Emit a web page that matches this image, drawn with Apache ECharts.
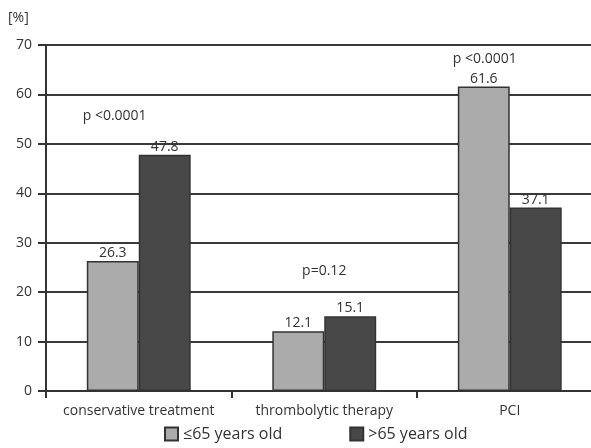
<!DOCTYPE html>
<html>
<head>
<meta charset="utf-8">
<script src="https://cdn.jsdelivr.net/npm/echarts@6/dist/echarts.min.js"></script>
<style>
  html, body { margin: 0; padding: 0; background: #fff; }
  #chart { width: 591px; height: 448px; }
</style>
</head>
<body>
<div id="chart"></div>
<script>
// Treatment categories and shares per age group (%)
const categories = ['conservative treatment', 'thrombolytic therapy', 'PCI'];
const youngerLabel = '≤65 years old';
const olderLabel = '>65 years old';
const youngerValues = [26.3, 12.1, 61.6];
const olderValues = [47.8, 15.1, 37.1];
// p-values for each comparison, with the value height they sit at
const pValues = ['p <0.0001', 'p=0.12', 'p <0.0001'];
const pLevels = [55.6, 24.2, 67.2];
const yTicks = [0, 10, 20, 30, 40, 50, 60, 70];

const font = '"Open Sans", "Noto Sans", sans-serif';
const textColor = '#333';

const chart = echarts.init(document.getElementById('chart'), null, { renderer: 'canvas' });

const labelStyle = {
  show: true,
  position: 'top',
  distance: 1,
  color: textColor,
  fontFamily: font,
  fontSize: 14
};

chart.setOption({
  animation: false,
  backgroundColor: '#fff',
  grid: {
    left: 46, width: 556.5, top: 45, bottom: 57,
    containLabel: false, outerBoundsMode: 'none'
  },
  legend: {
    bottom: 1,
    left: 159,
    itemGap: 67,
    itemWidth: 13,
    itemHeight: 13,
    icon: 'rect',
    textStyle: { color: textColor, fontFamily: font, fontSize: 16 },
    data: [youngerLabel, olderLabel]
  },
  xAxis: {
    type: 'category',
    data: categories,
    axisLine: { lineStyle: { color: '#333', width: 2 } },
    axisTick: { show: true, length: 7, lineStyle: { color: '#333', width: 2 } },
    axisLabel: { interval: 0, color: textColor, fontFamily: font, fontSize: 14, margin: 13 }
  },
  yAxis: {
    type: 'value',
    min: yTicks[0],
    max: yTicks[yTicks.length - 1],
    interval: 10,
    axisLine: { show: true, lineStyle: { color: '#333', width: 2 } },
    axisTick: { show: true, length: 8, lineStyle: { color: '#333', width: 2 } },
    axisLabel: { color: textColor, fontFamily: font, fontSize: 14, margin: 14 },
    splitLine: { show: true, lineStyle: { color: '#3a3a3a', width: 2 } }
  },
  series: [
    {
      name: youngerLabel,
      type: 'bar',
      data: youngerValues,
      barWidth: '28%',
      barGap: '0%',
      itemStyle: { color: '#ababab', borderColor: '#333', borderWidth: 1.5 },
      label: labelStyle
    },
    {
      name: olderLabel,
      type: 'bar',
      data: olderValues,
      barWidth: '28%',
      barGap: '0%',
      itemStyle: { color: '#484848', borderColor: '#333', borderWidth: 1.5 },
      label: labelStyle
    }
  ]
});

// Place the p-value notes and the unit label using the chart's own scales
const offsets = [-0.13, 0, -0.135];
const graphics = pValues.map((txt, i) => {
  const p = chart.convertToPixel({ gridIndex: 0 }, [i, pLevels[i]]);
  const step = chart.convertToPixel({ gridIndex: 0 }, [1, 0])[0] - chart.convertToPixel({ gridIndex: 0 }, [0, 0])[0];
  return {
    type: 'text',
    x: p[0] + offsets[i] * step,
    y: p[1],
    style: {
      text: txt,
      fill: textColor,
      font: '14px ' + font,
      textAlign: 'center',
      textVerticalAlign: 'middle'
    }
  };
});
graphics.push({
  type: 'text',
  x: 8,
  y: 18,
  style: { text: '[%]', fill: textColor, font: '14px ' + font, textVerticalAlign: 'middle' }
});
chart.setOption({ graphic: graphics });
</script>
</body>
</html>
